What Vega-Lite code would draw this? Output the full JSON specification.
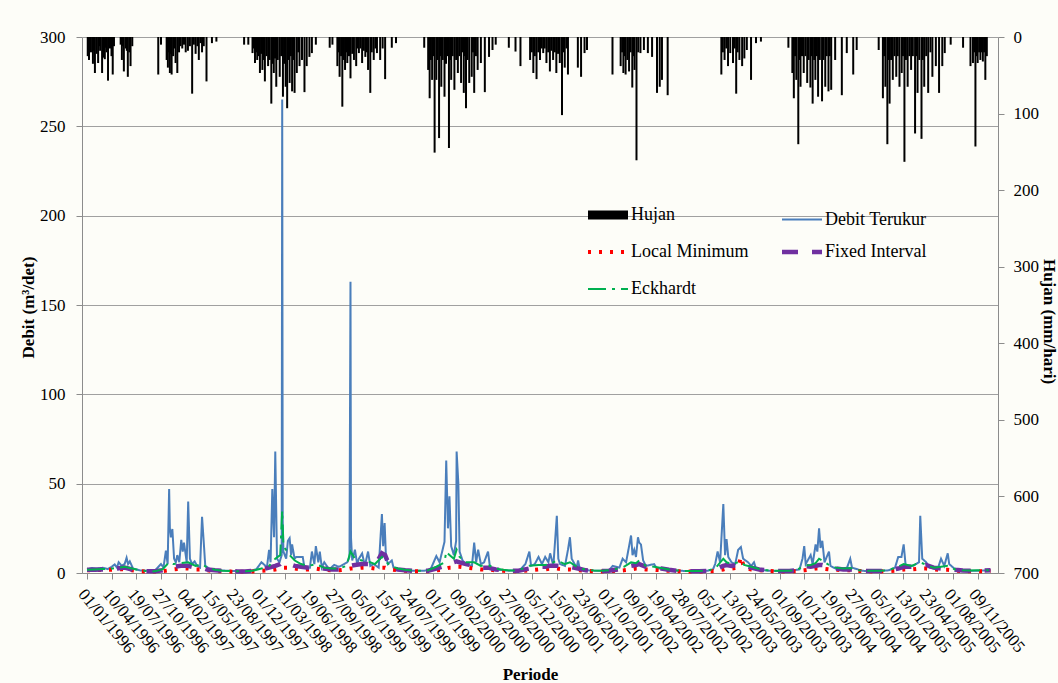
{
"$schema": "https://vega.github.io/schema/vega-lite/v6.json",
"width": 916, "height": 536,
"autosize": {"type": "none"},
"padding": {"left": 82, "top": 37, "right": 60, "bottom": 110},
"background": "#FDFDF8",
"config": {
 "view": {"stroke": null},
 "font": "Liberation Serif",
 "axis": {"labelFont": "Liberation Serif", "titleFont": "Liberation Serif", "labelColor": "#000", "titleColor": "#000", "labelFontSize": 17, "titleFontSize": 17, "titleFontWeight": "bold", "domainColor": "#8c8c8c", "tickColor": "#8c8c8c", "tickSize": 6},
 "legend": {"orient": "none", "legendX": 517, "legendY": 169, "columns": 2, "direction": "horizontal", "gridAlign": "all", "symbolType": "stroke", "symbolSize": 1600, "labelFont": "Liberation Serif", "labelFontSize": 18, "labelColor": "#000", "labelOffset": 14, "columnPadding": 24, "rowPadding": 10, "labelLimit": 250}
},
"datasets": {
 "rain": [
{"d":"1996-01-04","h":25},{"d":"1996-01-09","h":30},{"d":"1996-01-13","h":15},{"d":"1996-01-17","h":20},{"d":"1996-01-25","h":35},{"d":"1996-01-29","h":18},{"d":"1996-02-02","h":47},{"d":"1996-02-09","h":22},{"d":"1996-02-15","h":34},{"d":"1996-02-19","h":12},{"d":"1996-02-23","h":18},{"d":"1996-03-02","h":47},{"d":"1996-03-08","h":27},{"d":"1996-03-13","h":29},{"d":"1996-03-16","h":14},{"d":"1996-03-20","h":20},{"d":"1996-03-26","h":57},{"d":"1996-03-30","h":10},{"d":"1996-04-03","h":15},{"d":"1996-04-09","h":25},{"d":"1996-04-14","h":49},{"d":"1996-04-19","h":12},{"d":"1996-05-16","h":10},{"d":"1996-05-21","h":30},{"d":"1996-05-25","h":12},{"d":"1996-05-29","h":45},{"d":"1996-06-06","h":15},{"d":"1996-06-10","h":18},{"d":"1996-06-14","h":52},{"d":"1996-06-20","h":20},{"d":"1996-06-25","h":38},{"d":"1996-07-02","h":12},
{"d":"1996-10-15","h":49},{"d":"1996-10-26","h":10},{"d":"1996-11-18","h":30},{"d":"1996-11-23","h":40},{"d":"1996-11-27","h":20},{"d":"1996-12-01","h":47},{"d":"1996-12-04","h":22},{"d":"1996-12-08","h":49},{"d":"1996-12-14","h":25},{"d":"1996-12-19","h":15},{"d":"1996-12-24","h":34},{"d":"1996-12-31","h":47},{"d":"1997-01-07","h":20},{"d":"1997-01-13","h":12},{"d":"1997-01-20","h":15},{"d":"1997-01-27","h":10},{"d":"1997-02-03","h":20},{"d":"1997-02-12","h":18},{"d":"1997-02-20","h":12},{"d":"1997-03-01","h":74},{"d":"1997-03-08","h":10},{"d":"1997-03-15","h":22},{"d":"1997-03-22","h":12},{"d":"1997-03-28","h":30},{"d":"1997-04-04","h":8},{"d":"1997-04-10","h":20},{"d":"1997-04-17","h":12},{"d":"1997-04-28","h":58},{"d":"1997-05-20","h":8},{"d":"1997-06-07","h":6},
{"d":"1997-09-27","h":10},{"d":"1997-10-14","h":10},{"d":"1997-10-31","h":21},{"d":"1997-11-05","h":15},{"d":"1997-11-10","h":34},{"d":"1997-11-15","h":20},{"d":"1997-11-19","h":30},{"d":"1997-11-25","h":25},{"d":"1997-11-30","h":47},{"d":"1997-12-05","h":22},{"d":"1997-12-10","h":43},{"d":"1997-12-15","h":30},{"d":"1997-12-20","h":58},{"d":"1997-12-27","h":25},{"d":"1998-01-02","h":38},{"d":"1998-01-08","h":30},{"d":"1998-01-15","h":87},{"d":"1998-01-20","h":35},{"d":"1998-01-25","h":47},{"d":"1998-01-30","h":28},{"d":"1998-02-04","h":65},{"d":"1998-02-10","h":30},{"d":"1998-02-18","h":52},{"d":"1998-02-24","h":25},{"d":"1998-03-03","h":78},{"d":"1998-03-08","h":35},{"d":"1998-03-14","h":65},{"d":"1998-03-20","h":93},{"d":"1998-03-25","h":30},{"d":"1998-03-30","h":60},{"d":"1998-04-04","h":25},{"d":"1998-04-09","h":71},{"d":"1998-04-14","h":30},{"d":"1998-04-19","h":73},{"d":"1998-04-28","h":47},{"d":"1998-05-04","h":20},{"d":"1998-05-09","h":38},{"d":"1998-05-19","h":30},{"d":"1998-05-29","h":72},{"d":"1998-06-07","h":38},{"d":"1998-06-18","h":26},{"d":"1998-06-28","h":21},{"d":"1998-07-14","h":10},
{"d":"1998-09-08","h":14},{"d":"1998-09-19","h":10},{"d":"1998-10-09","h":38},{"d":"1998-10-14","h":20},{"d":"1998-10-18","h":52},{"d":"1998-10-24","h":25},{"d":"1998-10-29","h":91},{"d":"1998-11-04","h":30},{"d":"1998-11-09","h":43},{"d":"1998-11-13","h":20},{"d":"1998-11-18","h":34},{"d":"1998-11-25","h":25},{"d":"1998-12-01","h":54},{"d":"1998-12-08","h":22},{"d":"1998-12-15","h":30},{"d":"1998-12-24","h":38},{"d":"1998-12-29","h":15},{"d":"1999-01-04","h":21},{"d":"1999-01-10","h":15},{"d":"1999-01-17","h":34},{"d":"1999-01-24","h":18},{"d":"1999-01-30","h":26},{"d":"1999-02-05","h":20},{"d":"1999-02-10","h":43},{"d":"1999-02-19","h":73},{"d":"1999-02-25","h":20},{"d":"1999-03-05","h":30},{"d":"1999-03-12","h":15},{"d":"1999-03-18","h":21},{"d":"1999-03-31","h":30},{"d":"1999-04-10","h":15},{"d":"1999-04-20","h":55},{"d":"1999-05-17","h":14},{"d":"1999-06-03","h":8},
{"d":"1999-09-25","h":14},{"d":"1999-10-11","h":43},{"d":"1999-10-17","h":80},{"d":"1999-10-22","h":30},{"d":"1999-10-27","h":56},{"d":"1999-11-01","h":25},{"d":"1999-11-06","h":151},{"d":"1999-11-13","h":56},{"d":"1999-11-18","h":30},{"d":"1999-11-24","h":132},{"d":"1999-11-29","h":25},{"d":"1999-12-03","h":65},{"d":"1999-12-09","h":30},{"d":"1999-12-16","h":78},{"d":"1999-12-22","h":35},{"d":"1999-12-28","h":25},{"d":"2000-01-03","h":145},{"d":"2000-01-08","h":30},{"d":"2000-01-12","h":56},{"d":"2000-01-18","h":25},{"d":"2000-01-25","h":69},{"d":"2000-02-01","h":30},{"d":"2000-02-08","h":47},{"d":"2000-02-14","h":25},{"d":"2000-02-21","h":60},{"d":"2000-02-27","h":20},{"d":"2000-03-03","h":73},{"d":"2000-03-07","h":25},{"d":"2000-03-12","h":93},{"d":"2000-03-18","h":30},{"d":"2000-03-25","h":60},{"d":"2000-04-04","h":52},{"d":"2000-04-09","h":20},{"d":"2000-04-14","h":73},{"d":"2000-04-21","h":25},{"d":"2000-04-28","h":43},{"d":"2000-05-11","h":34},{"d":"2000-05-27","h":72},{"d":"2000-06-13","h":26},{"d":"2000-06-27","h":17},{"d":"2000-07-10","h":10},
{"d":"2000-09-01","h":14},{"d":"2000-09-28","h":19},{"d":"2000-10-18","h":38},{"d":"2000-11-26","h":30},{"d":"2000-12-03","h":20},{"d":"2000-12-09","h":47},{"d":"2000-12-15","h":25},{"d":"2000-12-22","h":55},{"d":"2000-12-29","h":20},{"d":"2001-01-05","h":30},{"d":"2001-01-12","h":15},{"d":"2001-01-18","h":21},{"d":"2001-01-24","h":15},{"d":"2001-01-31","h":34},{"d":"2001-02-07","h":20},{"d":"2001-02-14","h":45},{"d":"2001-02-20","h":18},{"d":"2001-02-27","h":30},{"d":"2001-03-06","h":20},{"d":"2001-03-12","h":47},{"d":"2001-03-19","h":22},{"d":"2001-03-26","h":34},{"d":"2001-04-04","h":102},{"d":"2001-04-10","h":20},{"d":"2001-04-15","h":40},{"d":"2001-04-22","h":15},{"d":"2001-04-28","h":49},{"d":"2001-06-07","h":40},{"d":"2001-06-20","h":52},{"d":"2001-07-04","h":21},{"d":"2001-07-14","h":17},
{"d":"2001-10-25","h":49},{"d":"2001-11-27","h":38},{"d":"2001-12-03","h":20},{"d":"2001-12-08","h":47},{"d":"2001-12-13","h":25},{"d":"2001-12-17","h":49},{"d":"2001-12-24","h":30},{"d":"2001-12-31","h":45},{"d":"2002-01-06","h":20},{"d":"2002-01-13","h":66},{"d":"2002-01-18","h":25},{"d":"2002-01-22","h":43},{"d":"2002-01-30","h":161},{"d":"2002-02-06","h":20},{"d":"2002-02-15","h":21},{"d":"2002-03-01","h":17},{"d":"2002-03-17","h":21},{"d":"2002-04-03","h":26},{"d":"2002-04-23","h":73},{"d":"2002-05-04","h":65},{"d":"2002-05-13","h":56},{"d":"2002-06-05","h":76},
{"d":"2003-01-08","h":49},{"d":"2003-01-14","h":20},{"d":"2003-01-21","h":30},{"d":"2003-01-28","h":15},{"d":"2003-02-04","h":38},{"d":"2003-02-13","h":21},{"d":"2003-02-24","h":34},{"d":"2003-03-03","h":15},{"d":"2003-03-09","h":74},{"d":"2003-03-15","h":20},{"d":"2003-03-22","h":30},{"d":"2003-04-02","h":38},{"d":"2003-04-11","h":28},{"d":"2003-04-21","h":17},{"d":"2003-05-08","h":56},{"d":"2003-05-28","h":8},{"d":"2003-06-17","h":6},
{"d":"2003-10-06","h":14},{"d":"2003-10-22","h":47},{"d":"2003-10-28","h":80},{"d":"2003-11-02","h":25},{"d":"2003-11-07","h":56},{"d":"2003-11-15","h":140},{"d":"2003-11-20","h":30},{"d":"2003-11-24","h":65},{"d":"2003-11-30","h":25},{"d":"2003-12-07","h":47},{"d":"2003-12-14","h":25},{"d":"2003-12-21","h":60},{"d":"2003-12-27","h":30},{"d":"2004-01-03","h":66},{"d":"2004-01-08","h":25},{"d":"2004-01-12","h":87},{"d":"2004-01-18","h":30},{"d":"2004-01-23","h":56},{"d":"2004-01-29","h":25},{"d":"2004-02-03","h":78},{"d":"2004-02-10","h":30},{"d":"2004-02-19","h":84},{"d":"2004-02-25","h":30},{"d":"2004-03-03","h":65},{"d":"2004-03-09","h":25},{"d":"2004-03-16","h":71},{"d":"2004-03-21","h":25},{"d":"2004-03-27","h":69},{"d":"2004-04-12","h":30},{"d":"2004-05-09","h":76},{"d":"2004-05-29","h":21},{"d":"2004-06-24","h":49},{"d":"2004-07-08","h":17},
{"d":"2004-10-05","h":17},{"d":"2004-10-22","h":80},{"d":"2004-10-27","h":25},{"d":"2004-11-01","h":65},{"d":"2004-11-09","h":140},{"d":"2004-11-13","h":30},{"d":"2004-11-18","h":87},{"d":"2004-11-24","h":30},{"d":"2004-12-01","h":56},{"d":"2004-12-08","h":25},{"d":"2004-12-15","h":52},{"d":"2004-12-21","h":25},{"d":"2004-12-28","h":65},{"d":"2005-01-06","h":47},{"d":"2005-01-11","h":25},{"d":"2005-01-17","h":163},{"d":"2005-01-23","h":30},{"d":"2005-01-30","h":65},{"d":"2005-02-06","h":25},{"d":"2005-02-13","h":43},{"d":"2005-02-20","h":25},{"d":"2005-03-01","h":126},{"d":"2005-03-06","h":25},{"d":"2005-03-11","h":73},{"d":"2005-03-18","h":30},{"d":"2005-03-27","h":133},{"d":"2005-04-01","h":30},{"d":"2005-04-07","h":65},{"d":"2005-04-15","h":25},{"d":"2005-04-23","h":73},{"d":"2005-05-02","h":20},{"d":"2005-05-10","h":52},{"d":"2005-05-24","h":38},{"d":"2005-06-06","h":73},{"d":"2005-06-19","h":38},{"d":"2005-06-29","h":21},{"d":"2005-07-23","h":10},
{"d":"2005-09-11","h":14},{"d":"2005-10-11","h":38},{"d":"2005-10-21","h":34},{"d":"2005-10-26","h":20},{"d":"2005-10-31","h":143},{"d":"2005-11-05","h":25},{"d":"2005-11-09","h":34},{"d":"2005-11-15","h":20},{"d":"2005-11-20","h":30},{"d":"2005-11-25","h":20},{"d":"2005-11-30","h":32},{"d":"2005-12-05","h":20},{"d":"2005-12-10","h":56},{"d":"2005-12-16","h":25}
 ],
 "debit": [
{"d":"1996-01-01","Debit Terukur":2.0},{"d":"1996-01-20","Debit Terukur":2.8},{"d":"1996-02-10","Debit Terukur":2.5},{"d":"1996-03-05","Debit Terukur":2.9},{"d":"1996-03-25","Debit Terukur":2.2},{"d":"1996-04-10","Debit Terukur":3.5},{"d":"1996-04-22","Debit Terukur":4.8},{"d":"1996-05-01","Debit Terukur":3.0},{"d":"1996-05-08","Debit Terukur":6.0},{"d":"1996-05-20","Debit Terukur":4.0},{"d":"1996-06-01","Debit Terukur":5.0},{"d":"1996-06-09","Debit Terukur":8.5},{"d":"1996-06-15","Debit Terukur":5.0},{"d":"1996-06-22","Debit Terukur":6.5},{"d":"1996-07-05","Debit Terukur":2.5},{"d":"1996-08-01","Debit Terukur":1.5},{"d":"1996-09-01","Debit Terukur":1.2},{"d":"1996-10-01","Debit Terukur":1.3},
{"d":"1996-10-26","Debit Terukur":5.0},{"d":"1996-11-05","Debit Terukur":3.0},{"d":"1996-11-15","Debit Terukur":12.5},{"d":"1996-11-22","Debit Terukur":5.0},{"d":"1996-11-28","Debit Terukur":47},{"d":"1996-12-01","Debit Terukur":25},{"d":"1996-12-05","Debit Terukur":20},{"d":"1996-12-11","Debit Terukur":24.6},{"d":"1996-12-18","Debit Terukur":8},{"d":"1996-12-25","Debit Terukur":6},{"d":"1996-12-31","Debit Terukur":10},{"d":"1997-01-08","Debit Terukur":6},{"d":"1997-01-16","Debit Terukur":18.5},{"d":"1997-01-22","Debit Terukur":12},{"d":"1997-01-27","Debit Terukur":17},{"d":"1997-02-07","Debit Terukur":6},{"d":"1997-02-13","Debit Terukur":40},{"d":"1997-02-20","Debit Terukur":8},{"d":"1997-03-01","Debit Terukur":5},{"d":"1997-03-11","Debit Terukur":6.5},{"d":"1997-03-21","Debit Terukur":4},{"d":"1997-04-02","Debit Terukur":3},{"d":"1997-04-10","Debit Terukur":31.5},{"d":"1997-04-17","Debit Terukur":17},{"d":"1997-04-23","Debit Terukur":4},{"d":"1997-05-15","Debit Terukur":2.0},{"d":"1997-06-15","Debit Terukur":1.5},{"d":"1997-08-01","Debit Terukur":1.2},{"d":"1997-09-15","Debit Terukur":1.0},{"d":"1997-10-15","Debit Terukur":1.2},
{"d":"1997-11-15","Debit Terukur":2.0},{"d":"1997-12-06","Debit Terukur":6},{"d":"1997-12-19","Debit Terukur":4.5},{"d":"1997-12-28","Debit Terukur":3},{"d":"1998-01-06","Debit Terukur":13},{"d":"1998-01-12","Debit Terukur":6},{"d":"1998-01-19","Debit Terukur":47},{"d":"1998-01-26","Debit Terukur":20},{"d":"1998-01-31","Debit Terukur":68},{"d":"1998-02-07","Debit Terukur":8},{"d":"1998-02-17","Debit Terukur":6},{"d":"1998-02-26","Debit Terukur":10},{"d":"1998-02-28","Debit Terukur":265},{"d":"1998-03-02","Debit Terukur":30},{"d":"1998-03-05","Debit Terukur":12},{"d":"1998-03-16","Debit Terukur":8},{"d":"1998-03-23","Debit Terukur":18},{"d":"1998-03-30","Debit Terukur":19.5},{"d":"1998-04-05","Debit Terukur":10},{"d":"1998-04-09","Debit Terukur":16},{"d":"1998-04-19","Debit Terukur":8},{"d":"1998-04-26","Debit Terukur":9},{"d":"1998-05-02","Debit Terukur":9},{"d":"1998-05-22","Debit Terukur":9},{"d":"1998-05-29","Debit Terukur":3},{"d":"1998-06-20","Debit Terukur":3},{"d":"1998-06-28","Debit Terukur":12},{"d":"1998-07-08","Debit Terukur":5},{"d":"1998-07-14","Debit Terukur":15},{"d":"1998-07-24","Debit Terukur":6},{"d":"1998-07-30","Debit Terukur":12},{"d":"1998-08-07","Debit Terukur":3},{"d":"1998-08-17","Debit Terukur":6},{"d":"1998-09-06","Debit Terukur":2},{"d":"1998-09-26","Debit Terukur":4.5},{"d":"1998-10-16","Debit Terukur":3.5},{"d":"1998-11-05","Debit Terukur":5},{"d":"1998-11-18","Debit Terukur":6},{"d":"1998-11-27","Debit Terukur":9},{"d":"1998-12-01","Debit Terukur":163},{"d":"1998-12-03","Debit Terukur":20},{"d":"1998-12-08","Debit Terukur":7},{"d":"1998-12-19","Debit Terukur":13},{"d":"1998-12-28","Debit Terukur":5},{"d":"1999-01-04","Debit Terukur":8},{"d":"1999-01-17","Debit Terukur":11},{"d":"1999-01-28","Debit Terukur":4},{"d":"1999-02-10","Debit Terukur":12},{"d":"1999-02-19","Debit Terukur":4},{"d":"1999-03-05","Debit Terukur":5},{"d":"1999-03-25","Debit Terukur":3},{"d":"1999-04-07","Debit Terukur":33},{"d":"1999-04-12","Debit Terukur":15},{"d":"1999-04-18","Debit Terukur":28},{"d":"1999-04-23","Debit Terukur":10},{"d":"1999-05-01","Debit Terukur":5},{"d":"1999-05-17","Debit Terukur":7},{"d":"1999-05-24","Debit Terukur":3},{"d":"1999-06-15","Debit Terukur":1.5},{"d":"1999-08-01","Debit Terukur":1.2},{"d":"1999-09-20","Debit Terukur":1.2},{"d":"1999-10-20","Debit Terukur":1.8},
{"d":"1999-11-13","Debit Terukur":9.5},{"d":"1999-11-26","Debit Terukur":6},{"d":"1999-12-10","Debit Terukur":14},{"d":"1999-12-16","Debit Terukur":17.5},{"d":"1999-12-23","Debit Terukur":63},{"d":"1999-12-30","Debit Terukur":25},{"d":"2000-01-05","Debit Terukur":43},{"d":"2000-01-12","Debit Terukur":15},{"d":"2000-01-23","Debit Terukur":10},{"d":"2000-02-01","Debit Terukur":18},{"d":"2000-02-03","Debit Terukur":68},{"d":"2000-02-10","Debit Terukur":50},{"d":"2000-02-15","Debit Terukur":12},{"d":"2000-02-27","Debit Terukur":7},{"d":"2000-03-12","Debit Terukur":5},{"d":"2000-04-05","Debit Terukur":4},{"d":"2000-04-14","Debit Terukur":17},{"d":"2000-04-22","Debit Terukur":6},{"d":"2000-04-30","Debit Terukur":13},{"d":"2000-05-11","Debit Terukur":5},{"d":"2000-05-24","Debit Terukur":6},{"d":"2000-06-09","Debit Terukur":12},{"d":"2000-06-17","Debit Terukur":3},{"d":"2000-07-20","Debit Terukur":1.8},{"d":"2000-09-01","Debit Terukur":1.3},{"d":"2000-10-15","Debit Terukur":1.5},
{"d":"2000-11-07","Debit Terukur":5},{"d":"2000-11-23","Debit Terukur":12},{"d":"2000-11-30","Debit Terukur":4},{"d":"2000-12-15","Debit Terukur":5},{"d":"2000-12-30","Debit Terukur":9},{"d":"2001-01-13","Debit Terukur":5},{"d":"2001-01-26","Debit Terukur":9},{"d":"2001-02-08","Debit Terukur":6},{"d":"2001-02-15","Debit Terukur":11},{"d":"2001-02-28","Debit Terukur":4},{"d":"2001-03-14","Debit Terukur":32},{"d":"2001-03-20","Debit Terukur":8},{"d":"2001-03-27","Debit Terukur":5},{"d":"2001-04-16","Debit Terukur":4},{"d":"2001-04-28","Debit Terukur":13},{"d":"2001-05-06","Debit Terukur":20},{"d":"2001-05-13","Debit Terukur":8},{"d":"2001-06-02","Debit Terukur":3},{"d":"2001-06-08","Debit Terukur":7},{"d":"2001-06-15","Debit Terukur":2},{"d":"2001-07-15","Debit Terukur":1.5},{"d":"2001-09-01","Debit Terukur":1.2},{"d":"2001-10-10","Debit Terukur":1.3},
{"d":"2001-10-26","Debit Terukur":4},{"d":"2001-11-22","Debit Terukur":3},{"d":"2001-12-05","Debit Terukur":8},{"d":"2001-12-19","Debit Terukur":6},{"d":"2002-01-08","Debit Terukur":21},{"d":"2002-01-14","Debit Terukur":10},{"d":"2002-01-21","Debit Terukur":13},{"d":"2002-01-28","Debit Terukur":9},{"d":"2002-02-05","Debit Terukur":20},{"d":"2002-02-10","Debit Terukur":17},{"d":"2002-02-17","Debit Terukur":16},{"d":"2002-02-26","Debit Terukur":7},{"d":"2002-03-09","Debit Terukur":4},{"d":"2002-04-11","Debit Terukur":5},{"d":"2002-04-20","Debit Terukur":3},{"d":"2002-06-01","Debit Terukur":1.5},{"d":"2002-08-01","Debit Terukur":1.2},{"d":"2002-10-01","Debit Terukur":1.1},{"d":"2002-11-15","Debit Terukur":1.3},
{"d":"2002-12-05","Debit Terukur":2.0},{"d":"2002-12-14","Debit Terukur":5},{"d":"2002-12-24","Debit Terukur":12},{"d":"2003-01-03","Debit Terukur":6},{"d":"2003-01-16","Debit Terukur":38.6},{"d":"2003-01-23","Debit Terukur":10},{"d":"2003-01-29","Debit Terukur":19},{"d":"2003-02-05","Debit Terukur":9},{"d":"2003-02-18","Debit Terukur":6},{"d":"2003-03-05","Debit Terukur":5},{"d":"2003-03-17","Debit Terukur":13},{"d":"2003-03-28","Debit Terukur":14.5},{"d":"2003-04-06","Debit Terukur":8},{"d":"2003-04-26","Debit Terukur":6},{"d":"2003-05-09","Debit Terukur":4},{"d":"2003-05-20","Debit Terukur":6},{"d":"2003-05-29","Debit Terukur":2},{"d":"2003-07-15","Debit Terukur":1.3},{"d":"2003-09-01","Debit Terukur":1.1},{"d":"2003-10-15","Debit Terukur":1.3},
{"d":"2003-11-20","Debit Terukur":2.0},{"d":"2003-12-02","Debit Terukur":8},{"d":"2003-12-09","Debit Terukur":15},{"d":"2003-12-15","Debit Terukur":5},{"d":"2004-01-04","Debit Terukur":10},{"d":"2004-01-12","Debit Terukur":5},{"d":"2004-01-24","Debit Terukur":16},{"d":"2004-01-31","Debit Terukur":12},{"d":"2004-02-07","Debit Terukur":25},{"d":"2004-02-13","Debit Terukur":14},{"d":"2004-02-20","Debit Terukur":18},{"d":"2004-02-29","Debit Terukur":6},{"d":"2004-03-18","Debit Terukur":12},{"d":"2004-03-24","Debit Terukur":4},{"d":"2004-04-20","Debit Terukur":2},{"d":"2004-05-30","Debit Terukur":3},{"d":"2004-06-12","Debit Terukur":8},{"d":"2004-06-19","Debit Terukur":3},{"d":"2004-08-01","Debit Terukur":1.2},{"d":"2004-10-01","Debit Terukur":1.1},{"d":"2004-11-15","Debit Terukur":1.5},
{"d":"2004-12-10","Debit Terukur":3},{"d":"2004-12-23","Debit Terukur":9},{"d":"2005-01-05","Debit Terukur":9},{"d":"2005-01-14","Debit Terukur":16},{"d":"2005-01-22","Debit Terukur":4},{"d":"2005-02-21","Debit Terukur":4},{"d":"2005-03-17","Debit Terukur":6},{"d":"2005-03-22","Debit Terukur":32},{"d":"2005-03-30","Debit Terukur":8},{"d":"2005-04-15","Debit Terukur":6},{"d":"2005-04-28","Debit Terukur":3},{"d":"2005-06-01","Debit Terukur":2.5},{"d":"2005-06-14","Debit Terukur":8},{"d":"2005-06-27","Debit Terukur":4},{"d":"2005-07-11","Debit Terukur":11},{"d":"2005-07-17","Debit Terukur":5},{"d":"2005-08-15","Debit Terukur":1.5},{"d":"2005-10-01","Debit Terukur":1.2},{"d":"2005-11-15","Debit Terukur":1.3},{"d":"2005-12-31","Debit Terukur":1.5}
 ],
 "base": [
{"d":"1996-01-01","Local Minimum":1.5,"Fixed Interval":1.8,"Eckhardt":1.8},
{"d":"1996-02-01","Local Minimum":1.6,"Fixed Interval":1.8,"Eckhardt":2.0},
{"d":"1996-03-01","Local Minimum":1.7,"Fixed Interval":2.0,"Eckhardt":2.2},
{"d":"1996-04-01","Local Minimum":1.8,"Fixed Interval":2.0,"Eckhardt":2.3},
{"d":"1996-05-01","Local Minimum":2.0,"Fixed Interval":2.5,"Eckhardt":2.8},
{"d":"1996-06-01","Local Minimum":2.2,"Fixed Interval":3.0,"Eckhardt":3.5},
{"d":"1996-07-01","Local Minimum":1.5,"Fixed Interval":2.0,"Eckhardt":2.5},
{"d":"1996-08-01","Local Minimum":1.0,"Fixed Interval":1.2,"Eckhardt":1.5},
{"d":"1996-09-01","Local Minimum":0.8,"Fixed Interval":1.0,"Eckhardt":1.1},
{"d":"1996-10-01","Local Minimum":0.8,"Fixed Interval":1.0,"Eckhardt":1.0},
{"d":"1996-11-01","Local Minimum":1.0,"Fixed Interval":1.5,"Eckhardt":2.0},
{"d":"1996-11-28","Local Minimum":1.5,"Fixed Interval":3.0,"Eckhardt":6.0},
{"d":"1996-12-15","Local Minimum":2.0,"Fixed Interval":3.5,"Eckhardt":5.0},
{"d":"1997-01-15","Local Minimum":2.5,"Fixed Interval":4.0,"Eckhardt":5.5},
{"d":"1997-02-13","Local Minimum":2.5,"Fixed Interval":4.0,"Eckhardt":6.0},
{"d":"1997-03-15","Local Minimum":2.0,"Fixed Interval":3.0,"Eckhardt":4.0},
{"d":"1997-04-10","Local Minimum":2.0,"Fixed Interval":3.0,"Eckhardt":5.0},
{"d":"1997-05-01","Local Minimum":1.5,"Fixed Interval":2.0,"Eckhardt":3.0},
{"d":"1997-06-01","Local Minimum":1.0,"Fixed Interval":1.5,"Eckhardt":1.8},
{"d":"1997-07-01","Local Minimum":0.9,"Fixed Interval":1.2,"Eckhardt":1.3},
{"d":"1997-08-01","Local Minimum":0.8,"Fixed Interval":1.0,"Eckhardt":1.1},
{"d":"1997-09-01","Local Minimum":0.7,"Fixed Interval":0.9,"Eckhardt":1.0},
{"d":"1997-10-01","Local Minimum":0.7,"Fixed Interval":0.9,"Eckhardt":1.0},
{"d":"1997-11-01","Local Minimum":0.9,"Fixed Interval":1.2,"Eckhardt":1.3},
{"d":"1997-12-06","Local Minimum":1.2,"Fixed Interval":2.0,"Eckhardt":2.5},
{"d":"1998-01-06","Local Minimum":1.5,"Fixed Interval":3.0,"Eckhardt":4.0},
{"d":"1998-01-31","Local Minimum":2.0,"Fixed Interval":4.0,"Eckhardt":8.0},
{"d":"1998-02-20","Local Minimum":2.5,"Fixed Interval":5.0,"Eckhardt":10.0},
{"d":"1998-02-28","Local Minimum":3.0,"Fixed Interval":6.0,"Eckhardt":35.0},
{"d":"1998-03-05","Local Minimum":3.0,"Fixed Interval":6.0,"Eckhardt":15.0},
{"d":"1998-03-30","Local Minimum":3.0,"Fixed Interval":5.0,"Eckhardt":10.0},
{"d":"1998-04-20","Local Minimum":2.5,"Fixed Interval":4.0,"Eckhardt":7.0},
{"d":"1998-05-15","Local Minimum":2.0,"Fixed Interval":3.5,"Eckhardt":5.0},
{"d":"1998-06-15","Local Minimum":2.0,"Fixed Interval":3.0,"Eckhardt":4.0},
{"d":"1998-07-14","Local Minimum":2.5,"Fixed Interval":3.5,"Eckhardt":5.0},
{"d":"1998-08-15","Local Minimum":1.8,"Fixed Interval":2.5,"Eckhardt":3.0},
{"d":"1998-09-15","Local Minimum":1.5,"Fixed Interval":2.0,"Eckhardt":2.5},
{"d":"1998-10-15","Local Minimum":1.5,"Fixed Interval":2.0,"Eckhardt":2.5},
{"d":"1998-11-15","Local Minimum":2.0,"Fixed Interval":3.0,"Eckhardt":4.0},
{"d":"1998-12-01","Local Minimum":2.5,"Fixed Interval":4.0,"Eckhardt":12.0},
{"d":"1998-12-19","Local Minimum":2.5,"Fixed Interval":4.5,"Eckhardt":8.0},
{"d":"1999-01-17","Local Minimum":3.0,"Fixed Interval":5.0,"Eckhardt":7.0},
{"d":"1999-02-10","Local Minimum":3.0,"Fixed Interval":5.0,"Eckhardt":6.5},
{"d":"1999-03-10","Local Minimum":2.5,"Fixed Interval":4.5,"Eckhardt":5.0},
{"d":"1999-04-07","Local Minimum":3.0,"Fixed Interval":11.0,"Eckhardt":9.0},
{"d":"1999-04-20","Local Minimum":3.0,"Fixed Interval":10.0,"Eckhardt":7.0},
{"d":"1999-05-10","Local Minimum":2.0,"Fixed Interval":3.0,"Eckhardt":4.0},
{"d":"1999-06-10","Local Minimum":1.5,"Fixed Interval":2.0,"Eckhardt":2.5},
{"d":"1999-07-10","Local Minimum":1.2,"Fixed Interval":1.5,"Eckhardt":1.8},
{"d":"1999-08-10","Local Minimum":1.0,"Fixed Interval":1.2,"Eckhardt":1.4},
{"d":"1999-09-10","Local Minimum":0.9,"Fixed Interval":1.1,"Eckhardt":1.2},
{"d":"1999-10-10","Local Minimum":1.0,"Fixed Interval":1.3,"Eckhardt":1.5},
{"d":"1999-11-13","Local Minimum":1.5,"Fixed Interval":2.5,"Eckhardt":3.5},
{"d":"1999-12-16","Local Minimum":2.0,"Fixed Interval":4.0,"Eckhardt":6.0},
{"d":"1999-12-23","Local Minimum":2.5,"Fixed Interval":5.0,"Eckhardt":12.0},
{"d":"2000-01-05","Local Minimum":3.0,"Fixed Interval":6.0,"Eckhardt":10.0},
{"d":"2000-01-23","Local Minimum":3.0,"Fixed Interval":6.0,"Eckhardt":8.0},
{"d":"2000-02-03","Local Minimum":3.5,"Fixed Interval":6.5,"Eckhardt":13.0},
{"d":"2000-02-15","Local Minimum":3.5,"Fixed Interval":6.0,"Eckhardt":9.0},
{"d":"2000-03-12","Local Minimum":3.0,"Fixed Interval":5.0,"Eckhardt":6.0},
{"d":"2000-04-14","Local Minimum":2.5,"Fixed Interval":4.0,"Eckhardt":6.0},
{"d":"2000-05-11","Local Minimum":2.0,"Fixed Interval":3.0,"Eckhardt":4.0},
{"d":"2000-06-09","Local Minimum":2.0,"Fixed Interval":3.0,"Eckhardt":4.5},
{"d":"2000-07-10","Local Minimum":1.5,"Fixed Interval":2.0,"Eckhardt":2.5},
{"d":"2000-08-10","Local Minimum":1.2,"Fixed Interval":1.5,"Eckhardt":1.8},
{"d":"2000-09-10","Local Minimum":1.0,"Fixed Interval":1.2,"Eckhardt":1.4},
{"d":"2000-10-10","Local Minimum":1.0,"Fixed Interval":1.3,"Eckhardt":1.5},
{"d":"2000-11-23","Local Minimum":1.5,"Fixed Interval":2.5,"Eckhardt":4.0},
{"d":"2000-12-30","Local Minimum":2.0,"Fixed Interval":3.5,"Eckhardt":4.5},
{"d":"2001-01-26","Local Minimum":2.0,"Fixed Interval":3.5,"Eckhardt":4.5},
{"d":"2001-02-15","Local Minimum":2.5,"Fixed Interval":4.0,"Eckhardt":5.0},
{"d":"2001-03-14","Local Minimum":2.5,"Fixed Interval":4.0,"Eckhardt":7.0},
{"d":"2001-04-15","Local Minimum":2.0,"Fixed Interval":3.5,"Eckhardt":5.0},
{"d":"2001-05-06","Local Minimum":2.0,"Fixed Interval":3.5,"Eckhardt":6.0},
{"d":"2001-06-08","Local Minimum":1.5,"Fixed Interval":2.5,"Eckhardt":3.0},
{"d":"2001-07-10","Local Minimum":1.2,"Fixed Interval":1.5,"Eckhardt":1.8},
{"d":"2001-08-10","Local Minimum":1.0,"Fixed Interval":1.2,"Eckhardt":1.4},
{"d":"2001-09-10","Local Minimum":0.9,"Fixed Interval":1.1,"Eckhardt":1.2},
{"d":"2001-10-10","Local Minimum":1.0,"Fixed Interval":1.3,"Eckhardt":1.5},
{"d":"2001-11-15","Local Minimum":1.2,"Fixed Interval":2.0,"Eckhardt":2.5},
{"d":"2001-12-10","Local Minimum":1.5,"Fixed Interval":2.5,"Eckhardt":3.5},
{"d":"2002-01-08","Local Minimum":2.0,"Fixed Interval":4.0,"Eckhardt":6.0},
{"d":"2002-01-28","Local Minimum":2.5,"Fixed Interval":4.5,"Eckhardt":5.5},
{"d":"2002-02-10","Local Minimum":2.5,"Fixed Interval":5.0,"Eckhardt":7.0},
{"d":"2002-03-09","Local Minimum":2.0,"Fixed Interval":3.5,"Eckhardt":4.0},
{"d":"2002-04-11","Local Minimum":1.8,"Fixed Interval":3.0,"Eckhardt":3.5},
{"d":"2002-05-10","Local Minimum":1.5,"Fixed Interval":2.5,"Eckhardt":2.8},
{"d":"2002-06-10","Local Minimum":1.2,"Fixed Interval":1.8,"Eckhardt":2.0},
{"d":"2002-07-10","Local Minimum":1.0,"Fixed Interval":1.3,"Eckhardt":1.5},
{"d":"2002-08-10","Local Minimum":0.9,"Fixed Interval":1.1,"Eckhardt":1.2},
{"d":"2002-09-10","Local Minimum":0.8,"Fixed Interval":1.0,"Eckhardt":1.1},
{"d":"2002-10-10","Local Minimum":0.8,"Fixed Interval":1.0,"Eckhardt":1.1},
{"d":"2002-11-10","Local Minimum":0.9,"Fixed Interval":1.2,"Eckhardt":1.3},
{"d":"2002-12-14","Local Minimum":1.2,"Fixed Interval":2.0,"Eckhardt":2.5},
{"d":"2003-01-16","Local Minimum":2.0,"Fixed Interval":4.0,"Eckhardt":8.0},
{"d":"2003-01-29","Local Minimum":2.5,"Fixed Interval":4.5,"Eckhardt":6.0},
{"d":"2003-02-18","Local Minimum":2.5,"Fixed Interval":4.0,"Eckhardt":5.0},
{"d":"2003-03-17","Local Minimum":3.0,"Fixed Interval":4.5,"Eckhardt":6.0},
{"d":"2003-03-28","Local Minimum":9.0,"Fixed Interval":5.0,"Eckhardt":6.5},
{"d":"2003-04-10","Local Minimum":3.0,"Fixed Interval":4.0,"Eckhardt":4.5},
{"d":"2003-05-09","Local Minimum":2.0,"Fixed Interval":3.0,"Eckhardt":3.5},
{"d":"2003-06-10","Local Minimum":1.5,"Fixed Interval":2.0,"Eckhardt":2.2},
{"d":"2003-07-10","Local Minimum":1.2,"Fixed Interval":1.5,"Eckhardt":1.6},
{"d":"2003-08-10","Local Minimum":1.0,"Fixed Interval":1.2,"Eckhardt":1.3},
{"d":"2003-09-10","Local Minimum":0.9,"Fixed Interval":1.1,"Eckhardt":1.2},
{"d":"2003-10-10","Local Minimum":0.9,"Fixed Interval":1.1,"Eckhardt":1.2},
{"d":"2003-11-10","Local Minimum":1.0,"Fixed Interval":1.5,"Eckhardt":1.8},
{"d":"2003-12-09","Local Minimum":1.5,"Fixed Interval":4.0,"Eckhardt":4.0},
{"d":"2004-01-04","Local Minimum":2.0,"Fixed Interval":3.5,"Eckhardt":4.5},
{"d":"2004-01-24","Local Minimum":2.5,"Fixed Interval":4.0,"Eckhardt":5.5},
{"d":"2004-02-07","Local Minimum":2.5,"Fixed Interval":4.5,"Eckhardt":8.0},
{"d":"2004-02-20","Local Minimum":2.5,"Fixed Interval":4.5,"Eckhardt":7.0},
{"d":"2004-03-18","Local Minimum":2.0,"Fixed Interval":3.5,"Eckhardt":4.5},
{"d":"2004-04-15","Local Minimum":1.8,"Fixed Interval":2.5,"Eckhardt":3.0},
{"d":"2004-05-15","Local Minimum":1.5,"Fixed Interval":2.0,"Eckhardt":2.5},
{"d":"2004-06-12","Local Minimum":1.5,"Fixed Interval":2.0,"Eckhardt":2.8},
{"d":"2004-07-10","Local Minimum":1.2,"Fixed Interval":1.5,"Eckhardt":1.6},
{"d":"2004-08-10","Local Minimum":1.0,"Fixed Interval":1.2,"Eckhardt":1.3},
{"d":"2004-09-10","Local Minimum":0.9,"Fixed Interval":1.1,"Eckhardt":1.2},
{"d":"2004-10-10","Local Minimum":0.9,"Fixed Interval":1.1,"Eckhardt":1.2},
{"d":"2004-11-10","Local Minimum":1.0,"Fixed Interval":1.3,"Eckhardt":1.5},
{"d":"2004-12-23","Local Minimum":1.5,"Fixed Interval":2.5,"Eckhardt":3.5},
{"d":"2005-01-14","Local Minimum":2.0,"Fixed Interval":3.5,"Eckhardt":5.0},
{"d":"2005-02-15","Local Minimum":2.0,"Fixed Interval":3.5,"Eckhardt":4.0},
{"d":"2005-03-22","Local Minimum":2.5,"Fixed Interval":4.0,"Eckhardt":6.0},
{"d":"2005-04-15","Local Minimum":2.5,"Fixed Interval":4.5,"Eckhardt":4.5},
{"d":"2005-05-15","Local Minimum":2.0,"Fixed Interval":3.0,"Eckhardt":3.0},
{"d":"2005-06-14","Local Minimum":1.8,"Fixed Interval":2.5,"Eckhardt":3.5},
{"d":"2005-07-11","Local Minimum":1.8,"Fixed Interval":2.5,"Eckhardt":4.0},
{"d":"2005-08-10","Local Minimum":1.3,"Fixed Interval":1.8,"Eckhardt":2.0},
{"d":"2005-09-10","Local Minimum":1.1,"Fixed Interval":1.4,"Eckhardt":1.5},
{"d":"2005-10-10","Local Minimum":1.0,"Fixed Interval":1.3,"Eckhardt":1.4},
{"d":"2005-11-10","Local Minimum":1.0,"Fixed Interval":1.3,"Eckhardt":1.5},
{"d":"2005-12-31","Local Minimum":1.1,"Fixed Interval":1.5,"Eckhardt":1.6}
 ]
},
"encoding": {
 "x": {"field": "d", "type": "temporal",
  "scale": {"type": "utc", "domain": [820454400000, 1136851200000], "nice": false},
  "axis": {
   "values": [820454400000,829094400000,837734400000,846374400000,855014400000,863654400000,872294400000,880934400000,889574400000,898214400000,906854400000,915494400000,924134400000,932774400000,941414400000,950054400000,958694400000,967334400000,975974400000,984614400000,993254400000,1001894400000,1010534400000,1019174400000,1027814400000,1036454400000,1045094400000,1053734400000,1062374400000,1071014400000,1079654400000,1088294400000,1096934400000,1105574400000,1114214400000,1122854400000,1131494400000],
   "labelExpr": "utcFormat(datum.value, '%d/%m/%Y')",
   "labelAngle": 50, "labelAlign": "left", "labelBaseline": "top", "labelPadding": 7,
   "labelOverlap": false, "labelFlush": false, "labelBound": false,
   "grid": false, "title": "Periode", "titleX": 448, "titleY": 101, "titleBaseline": "middle"
  }
 }
},
"layer": [
 {
  "data": {"name": "rain"},
  "mark": {"type": "bar", "color": "#000000", "width": 2},
  "encoding": {
   "y": {"field": "h", "type": "quantitative", "stack": null,
    "scale": {"domain": [0, 700], "reverse": true, "nice": false},
    "axis": {"orient": "right", "values": [0,100,200,300,400,500,600,700], "grid": false, "labelPadding": 9,
     "title": "Hujan  (mm/hari)", "titleAngle": 90, "titleX": 50, "titleY": 284, "titleAlign": "center", "titleBaseline": "middle"}
   }
  }
 },
 {
  "layer": [
   {
    "data": {"name": "debit"},
    "transform": [{"fold": ["Debit Terukur"], "as": ["s", "v"]}],
    "mark": {"type": "line", "strokeCap": "butt", "strokeWidth": 2},
    "encoding": {
     "y": {"field": "v", "type": "quantitative",
      "scale": {"domain": [0, 300], "nice": false},
      "axis": {"values": [0,50,100,150,200,250,300], "grid": true, "gridColor": "#a0a0a0", "labelPadding": 11,
       "title": "Debit (m³/det)", "titleAngle": -90, "titleX": -54, "titleY": 270, "titleAlign": "center", "titleBaseline": "middle"}
     },
     "color": {"field": "s", "type": "nominal", "scale": {"domain": ["Hujan","Debit Terukur","Local Minimum","Fixed Interval","Eckhardt"], "range": ["#000000","#4A7EBB","#FF0000","#7030A0","#00B050"]},
      "legend": {"title": null, "encode": {"symbols": {"update": {"strokeWidth": {"signal": "datum.value === 'Hujan' ? 9 : datum.value === 'Local Minimum' ? 4 : datum.value === 'Fixed Interval' ? 4.5 : 2"}}}}}},
     "strokeDash": {"field": "s", "type": "nominal", "scale": {"domain": ["Hujan","Debit Terukur","Local Minimum","Fixed Interval","Eckhardt"], "range": [[1,0],[1,0],[3,8],[16,14],[18,6,3,6]]},
      "legend": {"title": null, "encode": {"symbols": {"update": {"strokeWidth": {"signal": "datum.value === 'Hujan' ? 9 : datum.value === 'Local Minimum' ? 4 : datum.value === 'Fixed Interval' ? 4.5 : 2"}}}}}}
    }
   },
   {
    "data": {"name": "base"},
    "transform": [{"fold": ["Local Minimum"], "as": ["s", "v"]}],
    "mark": {"type": "line", "strokeCap": "butt", "strokeWidth": 4},
    "encoding": {
     "y": {"field": "v", "type": "quantitative"},
     "color": {"field": "s", "type": "nominal"},
     "strokeDash": {"field": "s", "type": "nominal"}
    }
   },
   {
    "data": {"name": "base"},
    "transform": [{"fold": ["Fixed Interval"], "as": ["s", "v"]}],
    "mark": {"type": "line", "strokeCap": "butt", "strokeWidth": 4.5},
    "encoding": {
     "y": {"field": "v", "type": "quantitative"},
     "color": {"field": "s", "type": "nominal"},
     "strokeDash": {"field": "s", "type": "nominal"}
    }
   },
   {
    "data": {"name": "base"},
    "transform": [{"fold": ["Eckhardt"], "as": ["s", "v"]}],
    "mark": {"type": "line", "strokeCap": "butt", "strokeWidth": 2},
    "encoding": {
     "y": {"field": "v", "type": "quantitative"},
     "color": {"field": "s", "type": "nominal"},
     "strokeDash": {"field": "s", "type": "nominal"}
    }
   }
  ]
 }
],
"resolve": {"scale": {"y": "independent"}}
}
